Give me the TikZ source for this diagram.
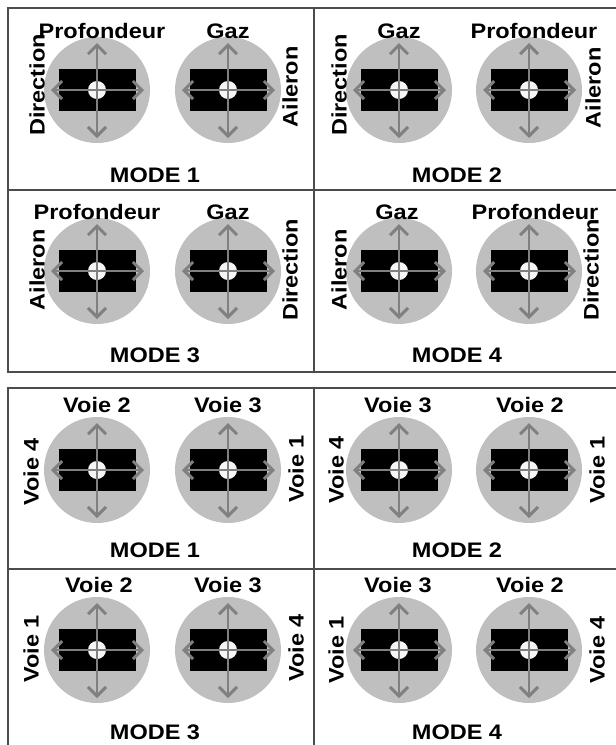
\documentclass[tikz,border=0pt]{standalone}
\usepackage{fontspec}
\setmainfont{Liberation Sans}[FakeStretch=1.12]
\usepackage{tikz}
\usetikzlibrary{arrows.meta}
\tikzset{
    disque/.style={shape=circle, fill=black!25, minimum size=106pt, inner sep=0pt},
    boitier/.style={shape=rectangle, fill=black, minimum width=77pt, minimum height=42pt, inner sep=0pt},
    bouton/.style={shape=circle, fill=black!4, minimum size=18pt, inner sep=0pt},
    pointe/.tip={Straight Barb[length=9pt,width=18pt,line width=3pt]},
    fleche/.style={black!50, line width=2.4pt, pointe-pointe},
    voie/.style={font=\fontsize{21}{22}\selectfont\bfseries, inner sep=0pt},
    voiev/.style={voie, rotate=90},
    cadre/.style={black!70, line width=1.5pt}}
% un manche : disque, boitier, bouton et les deux axes
\newcommand{\manche}[2]{%
    \node[disque] (#1) at (#2) {};
    \node[boitier] (#1-b) at (#1) {};
    \node[bouton] (#1-c) at (#1) {};
    \coordinate (#1-n) at ([yshift=47pt]#1.center);
    \coordinate (#1-s) at ([yshift=-48pt]#1.center);
    \coordinate (#1-o) at ([xshift=-46pt]#1.center);
    \coordinate (#1-e) at ([xshift=47pt]#1.center);
    \draw[fleche] (#1-o) -- (#1-e);
    \draw[fleche] (#1-n) -- (#1-s);}
\begin{document}
\begin{tikzpicture}[x=1pt, y=-1pt]
        \useasboundingbox (0,0) rectangle (616,745);

        % cadres
        \draw[cadre] (616,8) -- (8,8) -- (8,372) -- (616,372);
        \draw[cadre] (8,190) -- (616,190);
        \draw[cadre] (314,8) -- (314,372);
        \draw[cadre] (616,388) -- (8,388) -- (8,745);
        \draw[cadre] (8,569) -- (616,569);
        \draw[cadre] (314,388) -- (314,745);

        % manches
        \foreach \nom/\px/\py in {a1/97/90, a2/228/90, b1/399/90, b2/529/90,
                                  c1/97/271, c2/228/271, d1/399/271, d2/529/271,
                                  e1/97/470, e2/228/470, f1/399/470, f2/529/470,
                                  g1/97/650, g2/228/650, h1/399/650, h2/529/650}
            {\manche{\nom}{\px,\py}}

        % mode 1
        \node[voie] (a-prof) at (102,31) {Profondeur};
        \node[voie] (a-gaz) at (228,31) {Gaz};
        \node[voiev] (a-dir) at (37,85) {Direction};
        \node[voiev] (a-ail) at (290,87) {Aileron};
        \node[voie] (a-mode) at (155,175) {MODE 1};
        % mode 2
        \node[voie] (b-gaz) at (399,31) {Gaz};
        \node[voie] (b-prof) at (534,31) {Profondeur};
        \node[voiev] (b-dir) at (339,85) {Direction};
        \node[voiev] (b-ail) at (593,88) {Aileron};
        \node[voie] (b-mode) at (457,175) {MODE 2};
        % mode 3
        \node[voie] (c-prof) at (97,212) {Profondeur};
        \node[voie] (c-gaz) at (228,212) {Gaz};
        \node[voiev] (c-ail) at (37,270) {Aileron};
        \node[voiev] (c-dir) at (290,270) {Direction};
        \node[voie] (c-mode) at (155,355) {MODE 3};
        % mode 4
        \node[voie] (d-gaz) at (397,212) {Gaz};
        \node[voie] (d-prof) at (535,212) {Profondeur};
        \node[voiev] (d-ail) at (339,270) {Aileron};
        \node[voiev] (d-dir) at (591,270) {Direction};
        \node[voie] (d-mode) at (457,355) {MODE 4};

        % voies, mode 1
        \node[voie] (e-v2) at (97,405) {Voie 2};
        \node[voie] (e-v3) at (228,405) {Voie 3};
        \node[voiev] (e-v4) at (31,472) {Voie 4};
        \node[voiev] (e-v1) at (296,469) {Voie 1};
        \node[voie] (e-mode) at (155,550) {MODE 1};
        % voies, mode 2
        \node[voie] (f-v3) at (398,405) {Voie 3};
        \node[voie] (f-v2) at (530,405) {Voie 2};
        \node[voiev] (f-v4) at (336,470) {Voie 4};
        \node[voiev] (f-v1) at (597,470) {Voie 1};
        \node[voie] (f-mode) at (457,550) {MODE 2};
        % voies, mode 3
        \node[voie] (g-v2) at (99,585) {Voie 2};
        \node[voie] (g-v3) at (228,585) {Voie 3};
        \node[voiev] (g-v1) at (31,649) {Voie 1};
        \node[voiev] (g-v4) at (296,648) {Voie 4};
        \node[voie] (g-mode) at (155,732) {MODE 3};
        % voies, mode 4
        \node[voie] (h-v3) at (398,585) {Voie 3};
        \node[voie] (h-v2) at (530,585) {Voie 2};
        \node[voiev] (h-v1) at (336,650) {Voie 1};
        \node[voiev] (h-v4) at (597,650) {Voie 4};
        \node[voie] (h-mode) at (457,732) {MODE 4};

\end{tikzpicture}
\end{document}
